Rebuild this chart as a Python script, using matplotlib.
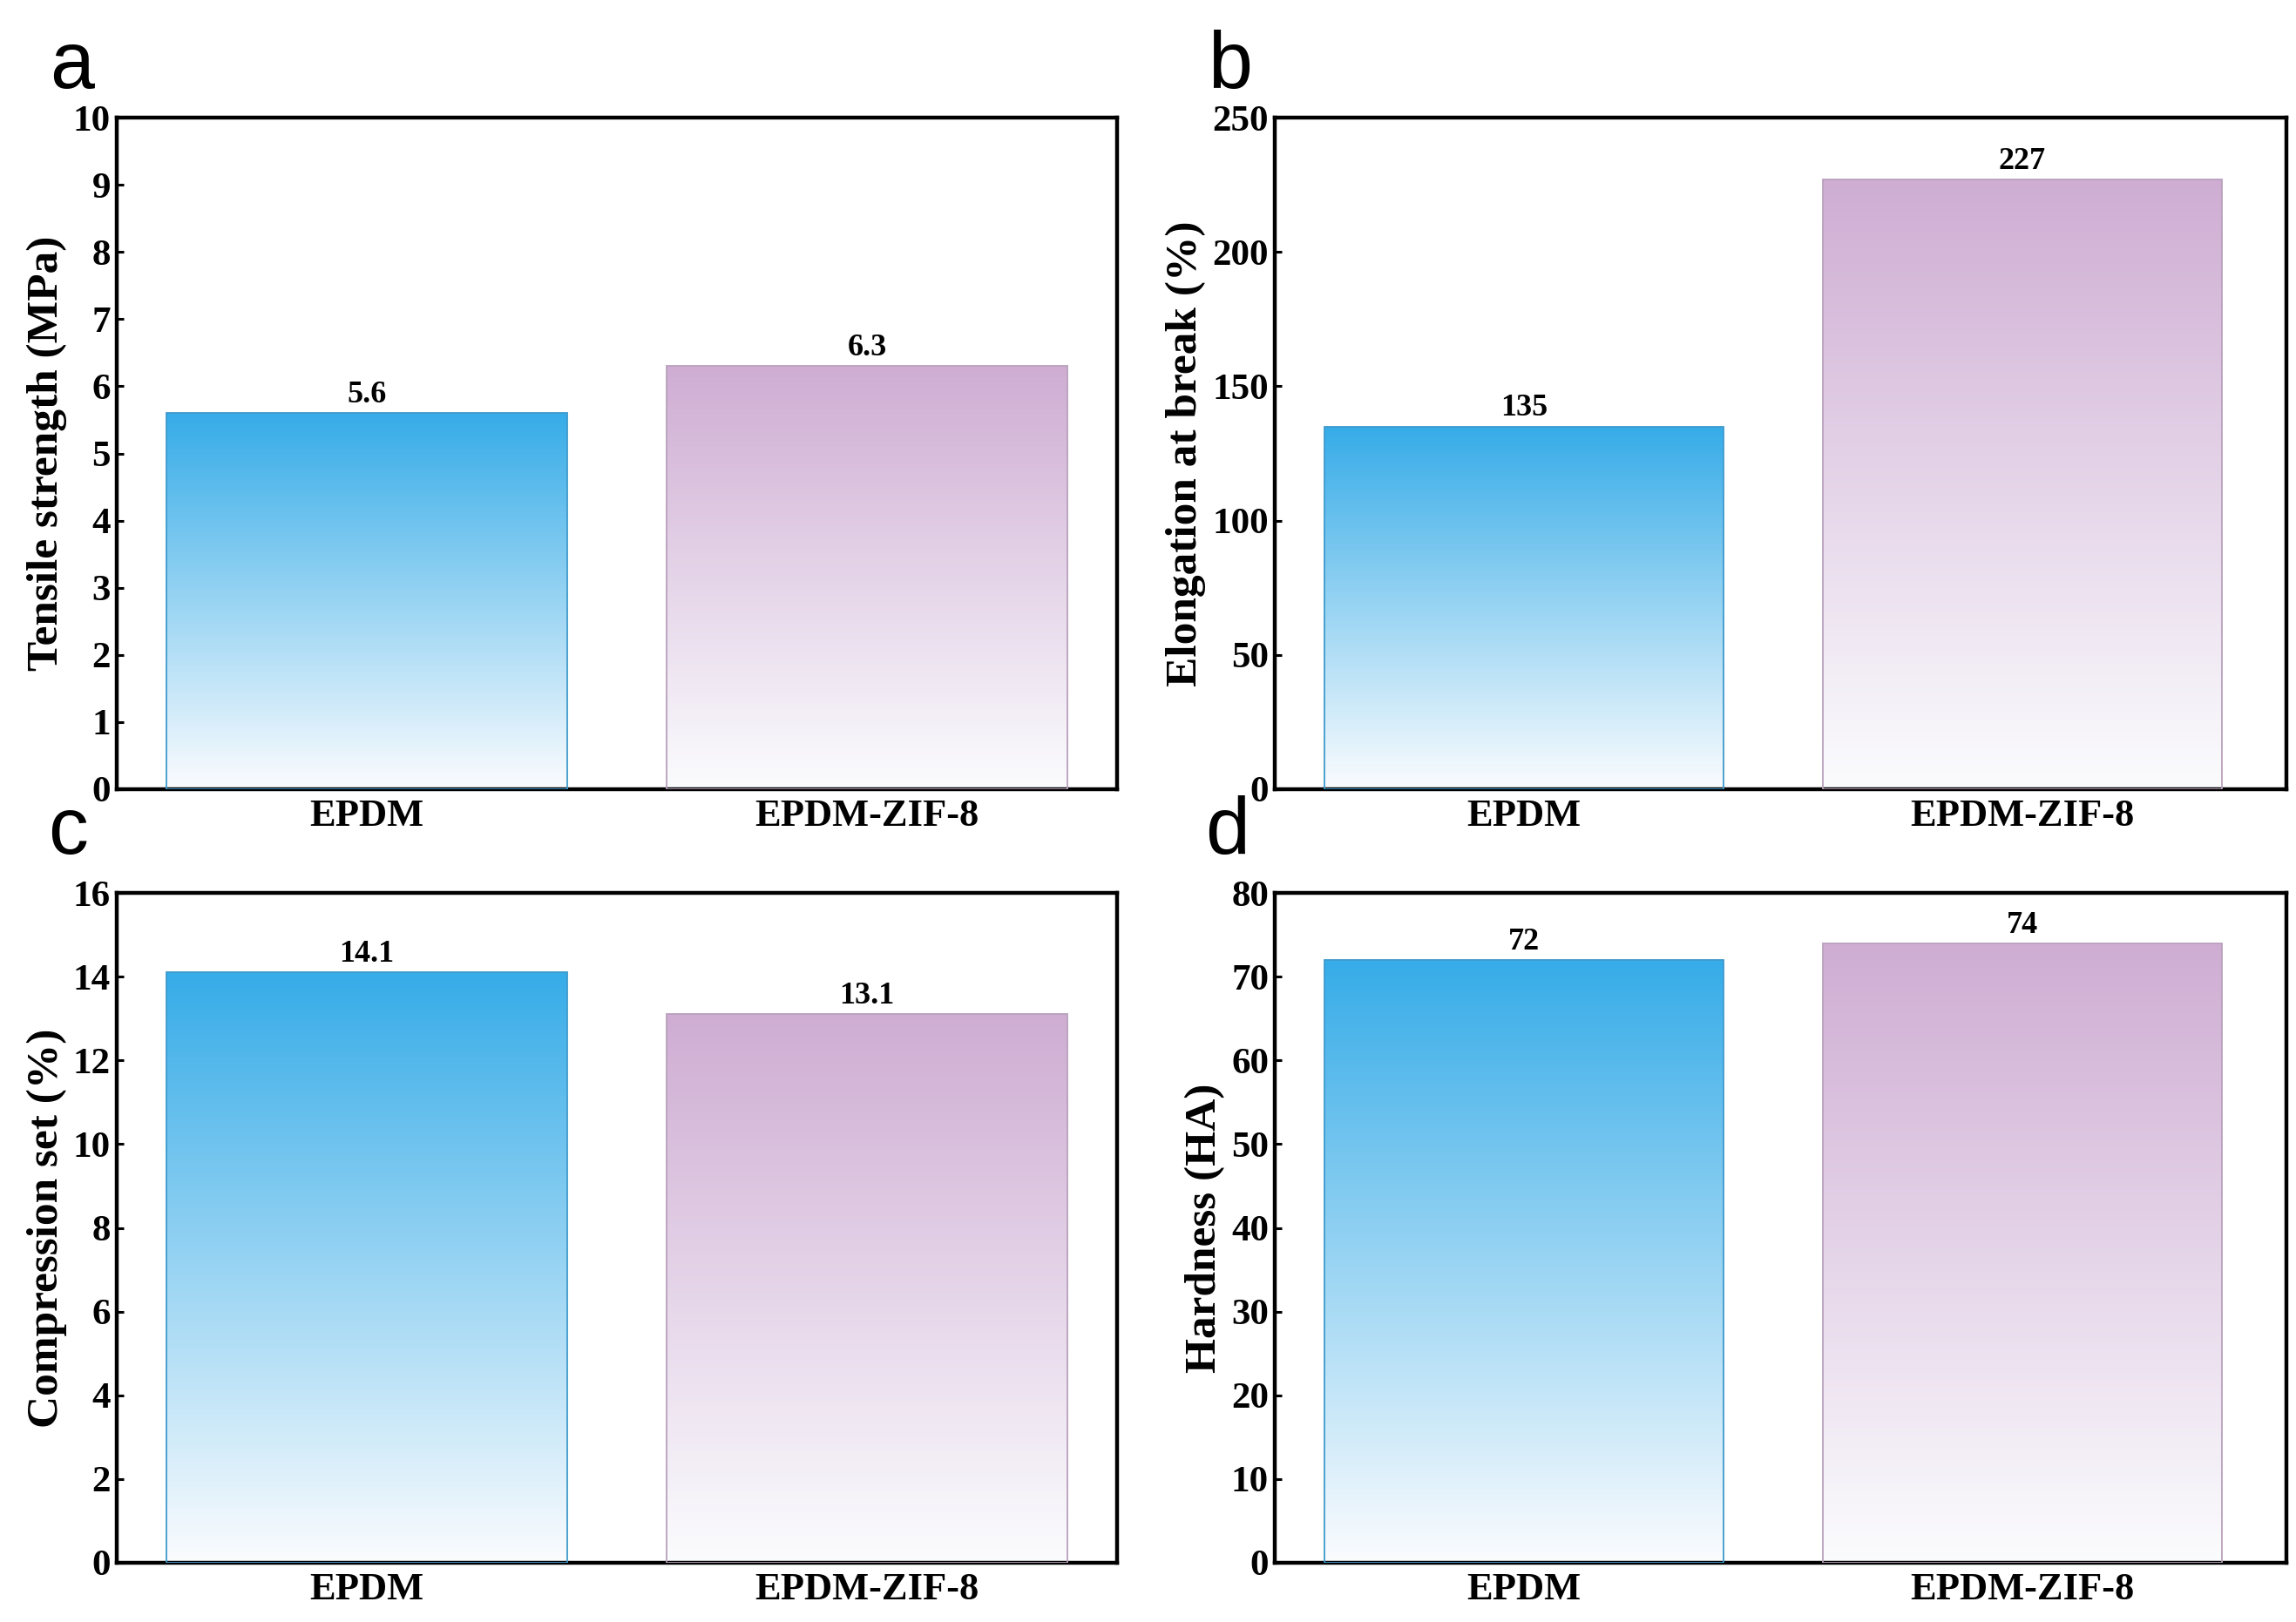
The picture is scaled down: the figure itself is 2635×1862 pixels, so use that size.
import numpy as np
import matplotlib
matplotlib.use("Agg")
import matplotlib.pyplot as plt
from matplotlib.colors import to_rgb

# data
samples = ["EPDM", "EPDM-ZIF-8"]
tensile = [5.6, 6.3]
elongation = [135, 227]
compression = [14.1, 13.1]
hardness = [72, 74]

tensile_labels = ["5.6", "6.3"]
elongation_labels = ["135", "227"]
compression_labels = ["14.1", "13.1"]
hardness_labels = ["72", "74"]

blue_top = "#36ACE8"
purple_top = "#CFADD3"
blue_edge = "#3E9ACD"
purple_edge = "#B8A0BC"
bottom_white = "#FBFCFE"

plt.rcParams['font.family'] = ['Liberation Serif', 'DejaVu Serif']
plt.rcParams['font.weight'] = 'bold'
plt.rcParams['axes.labelweight'] = 'bold'

W, H = 2635, 1862
fig = plt.figure(figsize=(W / 100, H / 100), dpi=100)


def gradient_bars(ax, vals, tops, edges):
    bars = ax.bar(range(len(vals)), vals, width=0.8, facecolor='none',
                  edgecolor=edges, linewidth=1.3, zorder=3)
    for b, top in zip(bars, tops):
        c0 = np.array(to_rgb(top))
        c1 = np.array(to_rgb(bottom_white))
        t = np.linspace(0, 1, 256)[:, None]
        grad = (c0 * (1 - t) + c1 * t)[:, None, :]
        x0 = b.get_x()
        im = ax.imshow(grad, extent=[x0, x0 + b.get_width(), 0, b.get_height()],
                       aspect='auto', origin='upper', zorder=2,
                       interpolation='bilinear')
        im.set_clip_path(b)
    return bars


panels = [
    # (rect, values, labels, ymax, step, ylabel, letter, letter pos, xmax)
    ([134, 135, 1282, 906], tensile, tensile_labels, 10, 1,
     "Tensile strength (MPa)", "a", (57, 101), 1.5),
    ([1463, 135, 2624, 906], elongation, elongation_labels, 250, 50,
     "Elongation at break (%)", "b", (1386, 101), 1.53),
    ([134, 1025, 1282, 1794], compression, compression_labels, 16, 2,
     "Compression set (%)", "c", (55, 980), 1.5),
    ([1463, 1025, 2624, 1794], hardness, hardness_labels, 80, 10,
     "Hardness (HA)", "d", (1383, 980), 1.53),
]

for rect, vals, labs, ymax, step, ylabel, letter, lpos, xmax in panels:
    l, t, r, b = rect
    ax = fig.add_axes([l / W, 1 - b / H, (r - l) / W, (b - t) / H])
    bars = gradient_bars(ax, vals, [blue_top, purple_top], [blue_edge, purple_edge])
    for bar, lab in zip(bars, labs):
        ax.annotate(lab, (bar.get_x() + bar.get_width() / 2, bar.get_height()),
                    xytext=(0, 3), textcoords='offset points',
                    ha='center', va='bottom', fontsize=26, fontweight='bold')
    ax.set_xlim(-0.5, xmax)
    ax.set_ylim(0, ymax)
    ax.set_yticks(np.arange(0, ymax + step / 2, step))
    ax.set_xticks(range(len(samples)))
    ax.set_xticklabels(samples)
    ax.tick_params(axis='both', direction='in', length=6, width=2.2)
    ax.tick_params(axis='y', labelsize=31, pad=5)
    ax.tick_params(axis='x', labelsize=32, pad=8)
    for lbl in ax.get_xticklabels() + ax.get_yticklabels():
        lbl.set_fontweight('bold')
    for s in ax.spines.values():
        s.set_linewidth(3.2)
    ax.set_ylabel(ylabel, fontsize=37, fontweight='bold', labelpad=5)
    fig.text(lpos[0] / W, 1 - lpos[1] / H, letter, fontsize=66,
             family=['Liberation Sans', 'DejaVu Sans'], fontweight='normal',
             ha='left', va='baseline')

plt.savefig("out.png", dpi=100)
